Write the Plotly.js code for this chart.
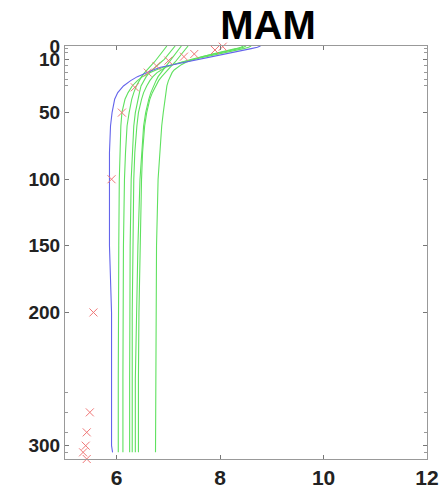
<!DOCTYPE html>
<html>
<head>
<meta charset="utf-8">
<script src="https://cdn.plot.ly/plotly-3.0.1.min.js"></script>
<style>html,body{margin:0;padding:0;background:#fff;}#chart{width:440px;height:490px;}</style>
</head>
<body>
<div id="chart"></div>
<script>
// depth levels (m) shared by the profiles
const depth = [0,1,2,4,6,8,10,12,14,16,18,20,23,26,30,35,40,50,60,80,100,150,200,250,300,305];

// mean profile (blue)
const meanProfile = [8.78,8.72,8.6,8.35,8.08,7.82,7.56,7.3,7.05,6.85,6.7,6.57,6.4,6.27,6.13,6.02,5.96,5.91,5.88,5.86,5.86,5.86,5.9,5.9,5.9,5.92];

// individual profiles (green)
const profA = [8.6,8.55,8.45,8.2,7.95,7.72,7.5,7.28,7.08,6.9,6.76,6.64,6.5,6.4,6.3,6.22,6.16,6.1,6.08,6.06,6.05,6.04,6.03,6.03,6.03,6.03];
const profB = [6.97,6.95,6.93,6.9,6.86,6.82,6.78,6.73,6.68,6.63,6.58,6.54,6.48,6.43,6.38,6.33,6.29,6.24,6.2,6.17,6.15,6.13,6.12,6.12,6.12,6.12];
const profC = [7.13,7.11,7.09,7.05,7.01,6.97,6.92,6.86,6.8,6.74,6.68,6.63,6.57,6.52,6.47,6.44,6.41,6.36,6.33,6.3,6.28,6.26,6.25,6.25,6.25,6.25];
const profD = [8.5,8.45,8.35,8.1,7.88,7.66,7.45,7.25,7.08,6.95,6.85,6.78,6.7,6.64,6.58,6.52,6.48,6.42,6.39,6.35,6.33,6.31,6.3,6.3,6.3,6.3];
const profE = [7.25,7.23,7.21,7.18,7.14,7.1,7.06,7.01,6.97,6.93,6.89,6.85,6.8,6.76,6.71,6.66,6.62,6.56,6.52,6.48,6.45,6.41,6.38,6.36,6.36,6.36];
const profF = [7.38,7.36,7.34,7.3,7.26,7.22,7.18,7.13,7.08,7.03,6.98,6.93,6.87,6.81,6.75,6.69,6.64,6.58,6.54,6.5,6.48,6.45,6.43,6.42,6.42,6.42];
const profG = [8.45,8.4,8.3,8.05,7.85,7.65,7.48,7.35,7.25,7.17,7.11,7.07,7.03,7.0,6.97,6.95,6.93,6.9,6.87,6.83,6.8,6.77,6.76,6.75,6.75,6.75];
const greenProfiles = [profA, profB, profC, profD, profE, profF, profG];

// observations (red crosses)
const obsDepth = [0.5,3,6,8,11,15,20,31,50,100,200,275,290,300,305,310];
const obsValue = [8.05,7.9,7.5,7.3,7.0,6.77,6.6,6.35,6.1,5.9,5.55,5.48,5.42,5.4,5.35,5.42];

// axis ticks
const yTickVals = [0,10,50,100,150,200,300];
const yTickText = ['0','10','50','100','150','200','300'];
const yMinorVals = [2,5,15,20,25,30,260,275,290,305];
const xTickVals = [6,8,10,12];
const xTickText = ['6','8','10','12'];

const markerColor = 'rgb(240,120,120)';
const traces = [];
greenProfiles.forEach(p => {
  traces.push({x: p, y: depth, type: 'scatter', mode: 'lines',
    line: {color: 'rgb(95,225,95)', width: 1.1}, showlegend: false, hoverinfo: 'skip'});
});
traces.push({x: meanProfile, y: depth, type: 'scatter', mode: 'lines',
  line: {color: 'rgb(100,100,235)', width: 1.1}, showlegend: false});
traces.push({x: obsValue, y: obsDepth, type: 'scatter', mode: 'markers',
  marker: {symbol: 'x-thin', size: 8, color: markerColor, line: {color: markerColor, width: 1}},
  showlegend: false, cliponaxis: false});

const layout = {
  width: 440, height: 490,
  margin: {l: 65, r: 13, t: 46, b: 31},
  paper_bgcolor: '#fff', plot_bgcolor: '#fff',
  title: {text: '<b>MAM</b>', x: 268/440, xref: 'container', xanchor: 'center',
    y: 1 - 25/490, yref: 'container', yanchor: 'middle',
    font: {family: 'Liberation Sans, Arial, sans-serif', size: 40, color: '#000'}},
  xaxis: {range: [5, 12], tickmode: 'array', tickvals: xTickVals, ticktext: xTickText,
    ticks: 'inside', ticklen: 4, tickcolor: '#777', showline: true, linecolor: '#999', linewidth: 1,
    mirror: 'ticks', showgrid: false, zeroline: false,
    tickfont: {family: 'Liberation Sans, Arial, sans-serif', size: 21, color: '#222', weight: 'bold'}},
  yaxis: {range: [310, 0], tickmode: 'array', tickvals: yTickVals, ticktext: yTickText,
    ticks: 'inside', ticklen: 4, tickcolor: '#777', showline: true, linecolor: '#999', linewidth: 1,
    mirror: 'ticks', showgrid: false, zeroline: false,
    minor: {tickmode: 'array', tickvals: yMinorVals, ticks: 'inside', ticklen: 3, tickcolor: '#999'},
    tickfont: {family: 'Liberation Sans, Arial, sans-serif', size: 19, color: '#222', weight: 'bold'}}
};

Plotly.newPlot('chart', traces, layout, {displayModeBar: false, staticPlot: true});
</script>
</body>
</html>
